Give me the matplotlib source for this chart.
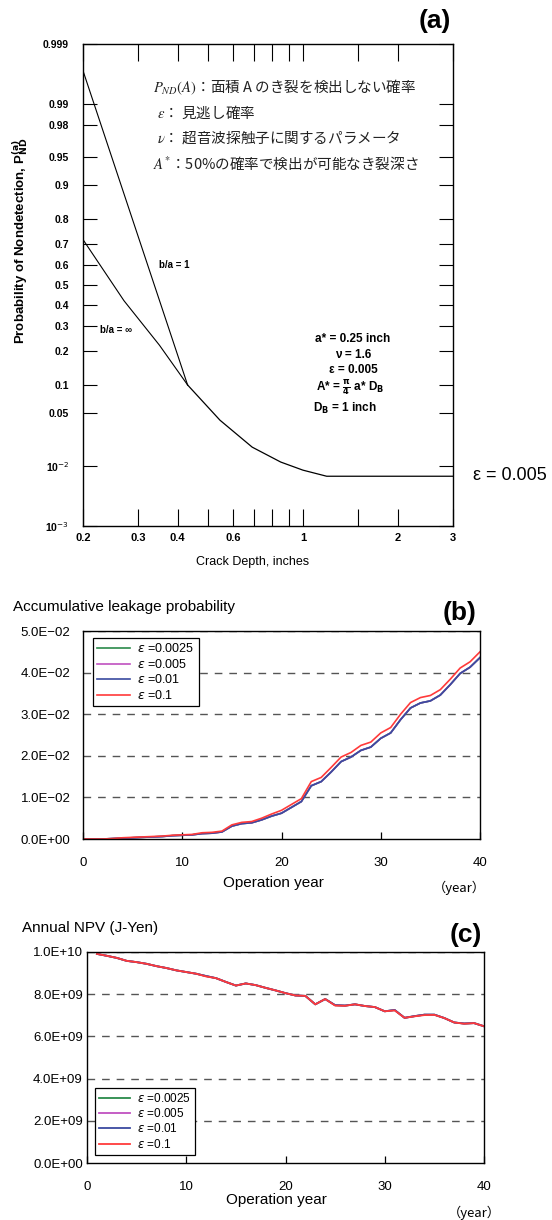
import numpy as np
import matplotlib
matplotlib.use('Agg')
import matplotlib.pyplot as plt
from matplotlib import ticker
from statistics import NormalDist

# ---------------- data: panel (a) ----------------
crack_ba1 = [0.2, 0.43]
pnd_ba1 = [0.997, 0.1]
crack_bainf = [0.2, 0.27, 0.35, 0.43]
pnd_bainf = [0.72, 0.42, 0.22, 0.1]
crack_common = [0.43, 0.545, 0.69, 0.85, 1.0, 1.19, 3.0]
pnd_common = [0.1, 0.0415, 0.0188, 0.0116, 0.0088, 0.0071, 0.0071]

xa_ticks = [0.2, 0.3, 0.4, 0.6, 1, 2, 3]
xa_labels = ['0.2', '0.3', '0.4', '0.6', '1', '2', '3']
xa_minor = [0.5, 0.7, 0.8, 0.9, 1.5]
ya_ticks = [0.999, 0.99, 0.98, 0.95, 0.9, 0.8, 0.7, 0.6, 0.5, 0.4, 0.3, 0.2,
            0.1, 0.05, 0.01, 0.001]
ya_labels = ['0.999', '0.99', '0.98', '0.95', '0.9', '0.8', '0.7', '0.6', '0.5',
             '0.4', '0.3', '0.2', '0.1', '0.05', '10$^{-2}$', '10$^{-3}$']

# ---------------- data: panel (b) ----------------
years_b = list(range(0, 41))
leak_eps01 = [0, 0, 0, 0.0001, 0.0003, 0.0004, 0.0005, 0.0006, 0.0007, 0.0009,
              0.0010, 0.0011, 0.0015, 0.0016, 0.0019, 0.0034, 0.0040, 0.0042,
              0.0050, 0.0060, 0.0069, 0.0083, 0.0097, 0.0138, 0.0148, 0.0172,
              0.0197, 0.0208, 0.0225, 0.0233, 0.0255, 0.0268, 0.0300, 0.0328,
              0.0340, 0.0345, 0.0359, 0.0384, 0.0411, 0.0426, 0.0450]
leak_eps001 = [0, 0, 0, 0.0001, 0.0002, 0.0003, 0.0004, 0.0005, 0.0006, 0.0008,
               0.0009, 0.0010, 0.0013, 0.0014, 0.0017, 0.0031, 0.0037, 0.0039,
               0.0046, 0.0055, 0.0062, 0.0076, 0.0090, 0.0128, 0.0138, 0.0161,
               0.0186, 0.0197, 0.0213, 0.0221, 0.0242, 0.0255, 0.0287, 0.0315,
               0.0327, 0.0332, 0.0346, 0.0371, 0.0398, 0.0413, 0.0436]
leak_eps0005 = [0, 0, 0, 0.0001, 0.0002, 0.0003, 0.0004, 0.0005, 0.0006, 0.0008,
                0.0009, 0.0010, 0.0013, 0.0014, 0.0017, 0.0031, 0.0037, 0.0039,
                0.0046, 0.0055, 0.0062, 0.0076, 0.0090, 0.0128, 0.0138, 0.0161,
                0.0186, 0.0197, 0.0213, 0.0221, 0.0242, 0.0255, 0.0287, 0.0315,
                0.0327, 0.0332, 0.0346, 0.0371, 0.0398, 0.0413, 0.0436]
leak_eps00025 = [0, 0, 0, 0.0001, 0.0002, 0.0003, 0.0004, 0.0005, 0.0006, 0.0008,
                 0.0009, 0.0010, 0.0013, 0.0014, 0.0017, 0.0031, 0.0037, 0.0039,
                 0.0046, 0.0055, 0.0062, 0.0076, 0.0090, 0.0128, 0.0138, 0.0161,
                 0.0186, 0.0197, 0.0213, 0.0221, 0.0242, 0.0255, 0.0287, 0.0315,
                 0.0327, 0.0332, 0.0346, 0.0371, 0.0398, 0.0413, 0.0436]
yb_ticks = [0, 0.01, 0.02, 0.03, 0.04, 0.05]
yb_labels = ['0.0E+00', '1.0E\u221202', '2.0E\u221202', '3.0E\u221202',
             '4.0E\u221202', '5.0E\u221202']

# ---------------- data: panel (c) ----------------
years_c = list(range(1, 41))
npv_eps01 = [9.91e9, 9.82e9, 9.72e9, 9.58e9, 9.52e9, 9.44e9, 9.33e9, 9.24e9,
             9.13e9, 9.05e9, 8.97e9, 8.84e9, 8.76e9, 8.58e9, 8.41e9, 8.51e9,
             8.43e9, 8.30e9, 8.18e9, 8.05e9, 7.94e9, 7.92e9, 7.52e9, 7.77e9,
             7.46e9, 7.45e9, 7.52e9, 7.44e9, 7.39e9, 7.19e9, 7.23e9, 6.88e9,
             6.95e9, 7.01e9, 7.02e9, 6.87e9, 6.66e9, 6.60e9, 6.63e9, 6.48e9]
npv_eps001 = [9.91e9, 9.82e9, 9.72e9, 9.58e9, 9.52e9, 9.44e9, 9.33e9, 9.24e9,
              9.13e9, 9.05e9, 8.97e9, 8.86e9, 8.76e9, 8.58e9, 8.41e9, 8.51e9,
              8.43e9, 8.30e9, 8.18e9, 8.05e9, 7.94e9, 7.92e9, 7.52e9, 7.77e9,
              7.48e9, 7.46e9, 7.52e9, 7.44e9, 7.39e9, 7.19e9, 7.25e9, 6.88e9,
              6.96e9, 7.03e9, 7.03e9, 6.87e9, 6.66e9, 6.61e9, 6.63e9, 6.48e9]
npv_eps0005 = list(npv_eps001)
npv_eps00025 = list(npv_eps001)
yc_ticks = [0, 2e9, 4e9, 6e9, 8e9, 1e10]
yc_labels = ['0.0E+00', '2.0E+09', '4.0E+09', '6.0E+09', '8.0E+09', '1.0E+10']

x_ticks_bc = [0, 10, 20, 30, 40]
x_labels_bc = ['0', '10', '20', '30', '40']
legend_labels = [r'$\it{\varepsilon}$ =0.0025', r'$\it{\varepsilon}$ =0.005',
                 r'$\it{\varepsilon}$ =0.01', r'$\it{\varepsilon}$ =0.1']
series_colors = ['#2a8a4a', '#c050c0', '#3a4aa0', '#ff3a3a']

# ---------------- layout helpers ----------------
W, H = 552, 1220
plt.rcParams['font.family'] = ['Liberation Sans', 'DejaVu Sans']
fig = plt.figure(figsize=(W / 100, H / 100), dpi=100)


def axrect(l, t, r, b):
    return [l / W, 1 - b / H, (r - l) / W, (b - t) / H]


def ftext(x, y, s, **kw):
    return fig.text(x / W, 1 - y / H, s, **kw)


# ---------------- panel (a) ----------------
_nd = NormalDist()
_ppf = np.vectorize(_nd.inv_cdf, otypes=[float])
_cdf = np.vectorize(_nd.cdf, otypes=[float])


def _fwd(p):
    p = np.clip(np.asarray(p, dtype=float), 1e-9, 1 - 1e-9)
    return _ppf(p)


def _inv(z):
    return _cdf(np.asarray(z, dtype=float))


axa = fig.add_axes(axrect(83, 44, 453, 526))
axa.plot(crack_ba1, pnd_ba1, color='k', lw=0.8)
axa.plot(crack_bainf, pnd_bainf, color='k', lw=0.8)
axa.plot(crack_common, pnd_common, color='k', lw=0.9)
axa.set_xscale('log')
axa.set_yscale('function', functions=(_fwd, _inv))
axa.set_xlim(0.2, 3)
axa.set_ylim(0.001, 0.999)
axa.set_xticks(xa_ticks, xa_labels, fontweight='bold', fontsize=8)
axa.set_xticks(xa_minor, minor=True)
axa.xaxis.set_minor_formatter(ticker.NullFormatter())
axa.set_yticks(ya_ticks, ya_labels, fontweight='bold', fontsize=7.5)
axa.yaxis.set_minor_locator(ticker.NullLocator())
axa.tick_params(axis='x', which='both', direction='in', top=True, length=12,
                width=0.8, pad=5)
axa.tick_params(axis='y', which='both', direction='in', right=True, length=10,
                width=0.8, pad=10)
for sp in axa.spines.values():
    sp.set_linewidth(1.0)

jp_family = ['Noto Sans CJK JP', 'DejaVu Sans']
jkw = dict(family=jp_family, fontsize=10.5, va='center', ha='left',
           math_fontfamily='stix', color='#222222')
ftext(153, 87, r'$P_{ND}(A)$' + '：面積 A のき裂を検出しない確率', **jkw)
ftext(157, 112, r'$\varepsilon$' + '： 見逃し確率', **jkw)
ftext(157, 137, r'$\nu$' + '： 超音波探触子に関するパラメータ', **jkw)
ftext(153, 163, r'$A^{*}$' + '：50%の確率で検出が可能なき裂深さ', **jkw)

ftext(159, 265, 'b/a = 1', fontsize=7, fontweight='bold', va='center', ha='left')
ftext(100, 330, 'b/a = \u221e', fontsize=7, fontweight='bold', va='center', ha='left')

pkw = dict(fontsize=8.5, fontweight='bold', va='center', ha='center',
           math_fontfamily='dejavusans')
ftext(353, 339, 'a* = 0.25 inch', **pkw)
ftext(353, 355, '\u03bd = 1.6', **pkw)
ftext(353, 370, '\u03b5 = 0.005', **pkw)
ftext(350, 388, r'A* = $\mathbf{\frac{\pi}{4}}$ a* D$_{\mathbf{B}}$', **pkw)
ftext(345, 408, r'D$_{\mathbf{B}}$ = 1 inch', **pkw)

ftext(473, 475, '\u03b5 = 0.005', fontsize=13, va='center', ha='left')
ftext(435, 21, '(a)', fontsize=19, fontweight='bold', va='center', ha='center')
ftext(253, 562, 'Crack Depth, inches', fontsize=9, va='center', ha='center')
ftext(20, 241, r'Probability of Nondetection, P$_{\mathbf{ND}}^{\mathbf{(a)}}$',
      fontsize=9.5, fontweight='bold', rotation=90, va='center', ha='center',
      math_fontfamily='dejavusans')

# ---------------- panels (b) and (c) ----------------
def style_bc(ax, yt, ylab, ypad):
    ax.set_xlim(0, 40)
    ax.set_xticks(x_ticks_bc, x_labels_bc, fontsize=9.5)
    ax.set_yticks(yt, ylab, fontsize=9.5)
    ax.tick_params(axis='x', direction='in', length=5, width=0.9, pad=13)
    ax.tick_params(axis='y', direction='in', length=0, pad=ypad)
    for sp in ax.spines.values():
        sp.set_linewidth(1.0)
    for v in yt[1:]:
        ax.axhline(v, color='#555555', lw=1.0, ls=(0, (5.5, 5)), zorder=0.5)


axb = fig.add_axes(axrect(83, 631, 480, 839))
for vals, col, lab in zip([leak_eps00025, leak_eps0005, leak_eps001, leak_eps01],
                          series_colors, legend_labels):
    axb.plot(years_b, vals, color=col, lw=1.2, label=lab)
axb.set_ylim(0, 0.05)
style_bc(axb, yb_ticks, yb_labels, 9)
legb = axb.legend(loc='upper left', bbox_to_anchor=(0.025, 0.966), borderaxespad=0,
                  fancybox=False, edgecolor='k', framealpha=1, fontsize=9,
                  handlelength=2.6, labelspacing=0.2, borderpad=0.35,
                  handletextpad=0.6)
legb.get_frame().set_linewidth(0.9)

ftext(13, 607, 'Accumulative leakage probability', fontsize=11, va='center', ha='left')
ftext(460, 613, '(b)', fontsize=19, fontweight='bold', va='center', ha='center')
ftext(273, 883, 'Operation year', fontsize=11, va='center', ha='center')
ftext(459, 888, '（year）', fontsize=9.5, va='center', ha='center', family=jp_family)

axc = fig.add_axes(axrect(87, 952, 484, 1163))
for vals, col, lab in zip([npv_eps00025, npv_eps0005, npv_eps001, npv_eps01],
                          series_colors, legend_labels):
    axc.plot(years_c, vals, color=col, lw=1.3, label=lab)
axc.set_ylim(0, 1e10)
style_bc(axc, yc_ticks, yc_labels, 3)
legc = axc.legend(loc='lower left', bbox_to_anchor=(0.02, 0.038), borderaxespad=0,
                  fancybox=False, edgecolor='k', framealpha=1, fontsize=8.5,
                  handlelength=2.6, labelspacing=0.2, borderpad=0.35,
                  handletextpad=0.6)
legc.get_frame().set_linewidth(0.9)

ftext(22, 928, 'Annual NPV (J-Yen)', fontsize=11, va='center', ha='left')
ftext(466, 935, '(c)', fontsize=19, fontweight='bold', va='center', ha='center')
ftext(276, 1200, 'Operation year', fontsize=11, va='center', ha='center')
ftext(474, 1213, '（year）', fontsize=9.5, va='center', ha='center', family=jp_family)

fig.savefig('out.png', dpi=100)
